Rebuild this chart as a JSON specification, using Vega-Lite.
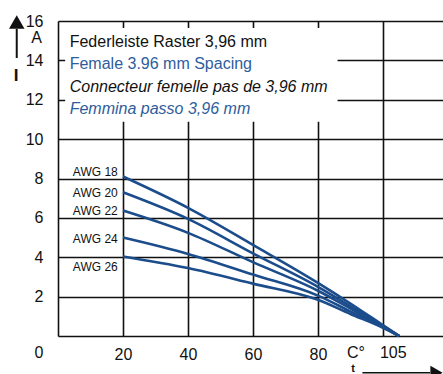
{
  "$schema": "https://vega.github.io/schema/vega-lite/v6.json",
  "width": 385,
  "height": 315,
  "autosize": {"type": "none"},
  "padding": {"left": 58, "top": 21, "right": 0, "bottom": 38},
  "background": "white",
  "config": {
    "view": {"stroke": null},
    "font": "Liberation Sans",
    "axis": {
      "grid": true, "gridColor": "#111111", "gridWidth": 1.6, "gridOpacity": 1,
      "domain": false, "ticks": false,
      "labelFontSize": 16, "labelColor": "#111111", "labelFlush": false, "labelOverlap": false,
      "titleColor": "rgba(0,0,0,0)"
    },
    "axisX": {"tickCount": 6, "labelPadding": 10, "labelExpr": "datum.value == 0 || datum.value >= 100 ? '' : datum.label"},
    "axisY": {"tickCount": 8, "labelPadding": 15, "labelExpr": "datum.value == 0 ? '' : datum.label"}
  },
  "datasets": {
    "curves": [
      {"awg": "AWG 18", "t": 20, "i": 8.1}, {"awg": "AWG 18", "t": 40, "i": 6.51}, {"awg": "AWG 18", "t": 60, "i": 4.63}, {"awg": "AWG 18", "t": 80, "i": 2.7}, {"awg": "AWG 18", "t": 90, "i": 1.65}, {"awg": "AWG 18", "t": 100, "i": 0.55}, {"awg": "AWG 18", "t": 105, "i": 0},
      {"awg": "AWG 20", "t": 20, "i": 7.3}, {"awg": "AWG 20", "t": 40, "i": 5.95}, {"awg": "AWG 20", "t": 60, "i": 4.2}, {"awg": "AWG 20", "t": 80, "i": 2.5}, {"awg": "AWG 20", "t": 90, "i": 1.52}, {"awg": "AWG 20", "t": 100, "i": 0.5}, {"awg": "AWG 20", "t": 105, "i": 0},
      {"awg": "AWG 22", "t": 20, "i": 6.37}, {"awg": "AWG 22", "t": 40, "i": 5.24}, {"awg": "AWG 22", "t": 60, "i": 3.75}, {"awg": "AWG 22", "t": 80, "i": 2.3}, {"awg": "AWG 22", "t": 90, "i": 1.4}, {"awg": "AWG 22", "t": 100, "i": 0.48}, {"awg": "AWG 22", "t": 105, "i": 0},
      {"awg": "AWG 24", "t": 20, "i": 5.0}, {"awg": "AWG 24", "t": 40, "i": 4.17}, {"awg": "AWG 24", "t": 60, "i": 3.12}, {"awg": "AWG 24", "t": 80, "i": 2.05}, {"awg": "AWG 24", "t": 90, "i": 1.25}, {"awg": "AWG 24", "t": 100, "i": 0.45}, {"awg": "AWG 24", "t": 105, "i": 0},
      {"awg": "AWG 26", "t": 20, "i": 4.04}, {"awg": "AWG 26", "t": 40, "i": 3.45}, {"awg": "AWG 26", "t": 60, "i": 2.66}, {"awg": "AWG 26", "t": 80, "i": 1.84}, {"awg": "AWG 26", "t": 90, "i": 1.12}, {"awg": "AWG 26", "t": 100, "i": 0.42}, {"awg": "AWG 26", "t": 105, "i": 0}
    ],
    "labels": [
      {"awg": "AWG 18", "i": 8.32},
      {"awg": "AWG 20", "i": 7.25},
      {"awg": "AWG 22", "i": 6.33},
      {"awg": "AWG 24", "i": 4.93},
      {"awg": "AWG 26", "i": 3.5}
    ],
    "one": [{}]
  },
  "layer": [
    {
      "data": {"name": "curves"},
      "mark": {"type": "line", "color": "#1b4c8b", "strokeWidth": 2.6, "interpolate": "monotone"},
      "encoding": {
        "x": {"field": "t", "type": "quantitative", "title": null, "scale": {"domain": [0, 118.5], "nice": false, "zero": false}},
        "y": {"field": "i", "type": "quantitative", "title": null, "scale": {"domain": [0, 16], "nice": false}},
        "detail": {"field": "awg"}
      }
    },
    {
      "data": {"name": "one"},
      "mark": {"type": "rect", "color": "white", "opacity": 1},
      "encoding": {
        "x": {"datum": 2.2}, "x2": {"datum": 86.05},
        "y": {"datum": 10.88}, "y2": {"datum": 15.65}
      }
    },
    {
      "data": {"name": "one"},
      "mark": {"type": "text", "text": "Federleiste Raster 3,96 mm", "align": "left", "baseline": "alphabetic", "fontSize": 16, "color": "#111111"},
      "encoding": {"x": {"datum": 3.6}, "y": {"datum": 14.69}}
    },
    {
      "data": {"name": "one"},
      "mark": {"type": "text", "text": "Female 3.96 mm Spacing", "align": "left", "baseline": "alphabetic", "fontSize": 16, "color": "#2d5d9c"},
      "encoding": {"x": {"datum": 3.6}, "y": {"datum": 13.54}}
    },
    {
      "data": {"name": "one"},
      "mark": {"type": "text", "text": "Connecteur femelle pas de 3,96 mm", "align": "left", "baseline": "alphabetic", "fontSize": 16, "fontStyle": "italic", "color": "#111111"},
      "encoding": {"x": {"datum": 3.6}, "y": {"datum": 12.4}}
    },
    {
      "data": {"name": "one"},
      "mark": {"type": "text", "text": "Femmina passo 3,96 mm", "align": "left", "baseline": "alphabetic", "fontSize": 16, "fontStyle": "italic", "color": "#2d5d9c"},
      "encoding": {"x": {"datum": 3.6}, "y": {"datum": 11.27}}
    },
    {
      "data": {"name": "labels"},
      "mark": {"type": "text", "align": "right", "baseline": "middle", "fontSize": 12, "color": "#111111"},
      "encoding": {
        "x": {"datum": 18.4},
        "y": {"field": "i", "type": "quantitative", "title": null},
        "text": {"field": "awg"}
      }
    },
    {
      "data": {"name": "one"},
      "mark": {"type": "text", "text": "0", "align": "right", "baseline": "middle", "fontSize": 16, "color": "#111111"},
      "encoding": {"x": {"datum": -4.5}, "y": {"datum": -0.88}}
    },
    {
      "data": {"name": "one"},
      "mark": {"type": "text", "text": "C°", "align": "center", "baseline": "middle", "fontSize": 16, "color": "#111111"},
      "encoding": {"x": {"datum": 91.7}, "y": {"datum": -0.85}}
    },
    {
      "data": {"name": "one"},
      "mark": {"type": "text", "text": "105", "align": "center", "baseline": "middle", "fontSize": 16, "color": "#111111"},
      "encoding": {"x": {"datum": 103.2}, "y": {"datum": -0.88}}
    },
    {
      "data": {"name": "one"},
      "mark": {"type": "text", "text": "A", "align": "center", "baseline": "middle", "fontSize": 16, "color": "#111111"},
      "encoding": {"x": {"datum": -6.6}, "y": {"datum": 15.13}}
    },
    {
      "data": {"name": "one"},
      "mark": {"type": "text", "text": "I", "align": "center", "baseline": "middle", "fontSize": 17, "fontWeight": "bold", "color": "#111111"},
      "encoding": {"x": {"datum": -12.9}, "y": {"datum": 13.2}}
    },
    {
      "data": {"name": "one"},
      "mark": {"type": "rule", "color": "#111111", "strokeWidth": 2},
      "encoding": {"x": {"datum": -12.7}, "y": {"datum": 14.12}, "y2": {"datum": 15.6}}
    },
    {
      "data": {"name": "one"},
      "mark": {"type": "point", "shape": "triangle-up", "filled": true, "color": "#111111", "opacity": 1, "size": 240},
      "encoding": {"x": {"datum": -12.7}, "y": {"datum": 15.95}}
    },
    {
      "data": {"name": "one"},
      "mark": {"type": "text", "text": "t", "align": "center", "baseline": "middle", "fontSize": 11, "fontWeight": "bold", "color": "#111111"},
      "encoding": {"x": {"datum": 90.8}, "y": {"datum": -1.7}}
    },
    {
      "data": {"name": "one"},
      "mark": {"type": "rule", "color": "#111111", "strokeWidth": 1.5},
      "encoding": {"x": {"datum": 93.7}, "x2": {"datum": 114.5}, "y": {"datum": -1.87}}
    },
    {
      "data": {"name": "one"},
      "mark": {"type": "point", "shape": "triangle-right", "filled": true, "color": "#111111", "opacity": 1, "size": 200},
      "encoding": {"x": {"datum": 116.5}, "y": {"datum": -1.87}}
    }
  ]
}
